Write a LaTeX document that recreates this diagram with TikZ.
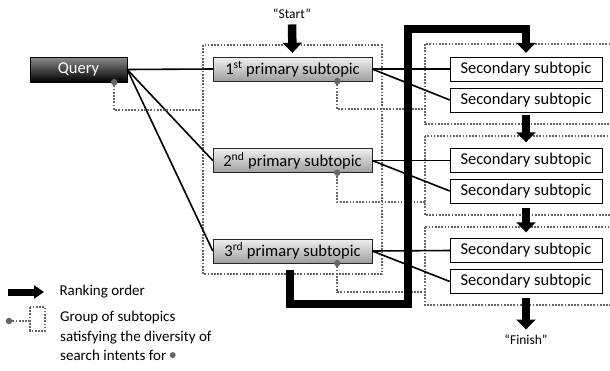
\documentclass[tikz,border=0pt]{standalone}
\usepackage{fontspec}
\setmainfont{Carlito}
\usetikzlibrary{arrows.meta}
\definecolor{groupgray}{HTML}{666666}

\tikzset{
  query/.style={draw=black, top color=black!45, bottom color=black, text=white,
    minimum width=97pt, minimum height=25pt, inner sep=0pt},
  primary/.style={draw=black!85, top color=black!6, bottom color=black!38,
    minimum width=159pt, minimum height=24pt, inner sep=0pt},
  secondary/.style={draw=black, fill=white, minimum width=152pt,
    minimum height=24pt, inner sep=0pt},
  group/.style={draw=groupgray, line width=1.7pt, dash pattern=on 1.7pt off 1.5pt},
  groupdot/.style={circle, fill=groupgray, inner sep=0pt, minimum size=6.5pt},
  link/.style={line width=1.6pt},
  order/.style={line width=8.5pt, line join=miter, -{Triangle[width=19pt,length=10pt]}},
  legendorder/.style={line width=7pt, -{Triangle[width=13pt,length=10pt]}},
}

\begin{document}
\begin{tikzpicture}[x=1pt, y=-1pt, font=\fontsize{16.5}{19}\selectfont]

    \clip (0,0) rectangle (610,370);

    % Groups of subtopics
    \draw[group] (203,45) rectangle (382,274);
    \draw[group] (425,44) rectangle (620,124);
    \draw[group] (425,136) rectangle (620,215);
    \draw[group] (425,227) rectangle (620,305);

    % Query
    \node[query] (q) at (78.5,69.5) {Query};

    % Primary subtopics
    \node[primary] (p1) at (292.5,69) {1\textsuperscript{st} primary subtopic};
    \node[primary] (p2) at (292.5,160.5) {2\textsuperscript{nd} primary subtopic};
    \node[primary] (p3) at (292.5,251) {3\textsuperscript{rd} primary subtopic};

    % Secondary subtopics
    \node[secondary] (s1) at (526,69) {Secondary subtopic};
    \node[secondary] (s2) at (526,100) {Secondary subtopic};
    \node[secondary] (s3) at (526,160.5) {Secondary subtopic};
    \node[secondary] (s4) at (526,191) {Secondary subtopic};
    \node[secondary] (s5) at (526,250.5) {Secondary subtopic};
    \node[secondary] (s6) at (526,281.5) {Secondary subtopic};

    % Links
    \foreach \p in {p1,p2,p3}
      \draw[link] (q.east) -- (\p.west);
    \draw[link] (p1.east) -- (s1.west);
    \draw[link] (p1.east) -- (s2.west);
    \draw[link] (p2.east) -- (s3.west);
    \draw[link] (p2.east) -- (s4.west);
    \draw[link] (p3.east) -- (s5.west);
    \draw[link] (p3.east) -- (s6.west);

    % Group links (diversity of search intents)
    \coordinate (g0) at (203,110);
    \coordinate (g1) at (425,109);
    \coordinate (g2) at (425,202);
    \coordinate (g3) at (425,292);
    \draw[group] ([xshift=-13pt]q.south east) |- (g0);
    \draw[group] ([xshift=-35pt]p1.south east) |- (g1);
    \draw[group] ([xshift=-35pt]p2.south east) |- (g2);
    \draw[group] ([xshift=-35pt]p3.south east) |- (g3);
    \node[groupdot] (qd) at ([xshift=-13pt]q.south east) {};
    \node[groupdot] (pd1) at ([xshift=-35pt]p1.south east) {};
    \node[groupdot] (pd2) at ([xshift=-35pt]p2.south east) {};
    \node[groupdot] (pd3) at ([xshift=-35pt]p3.south east) {};

    % Ranking order
    \node[font=\fontsize{13.5}{16}\selectfont] (start) at (292,14) {``Start''};
    \draw[order] ([yshift=-2pt]start.south) -- ([yshift=4pt]p1.north);
    \coordinate (turn) at (408,304);
    \draw[order] (290,270) |- (turn) |- (526,29) -- ([yshift=4pt]s1.north);
    \draw[order] ([yshift=-3pt]s2.south) -- ([yshift=6pt]s3.north);
    \draw[order] ([yshift=-5pt]s4.south) -- ([yshift=6pt]s5.north);
    \node[font=\fontsize{13.5}{16}\selectfont] (finish) at (526,340) {``Finish''};
    \draw[order] ([yshift=-4pt]s6.south) -- ([yshift=2pt]finish.north);

    % Legend
    \begin{scope}[font=\fontsize{15}{19.5}\selectfont]
      \coordinate (la) at (8,292);
      \coordinate (lb) at (44,292);
      \draw[legendorder] (la) -- (lb);
      \node[anchor=west] (rank) at (56,292) {Ranking order};
      \node[groupdot] (ld) at (9,321) {};
      \draw[group] (30,307) rectangle (45,331);
      \draw[group] (ld) -- (30,321);
      \node[anchor=north west, align=left, inner sep=0pt] (grp) at (60,311)
        {Group of subtopics\\satisfying the diversity of\\search intents for
         \raisebox{0.35ex}{\tikz\fill[groupgray] (0,0) circle (3pt);}};
    \end{scope}

\end{tikzpicture}
\end{document}
